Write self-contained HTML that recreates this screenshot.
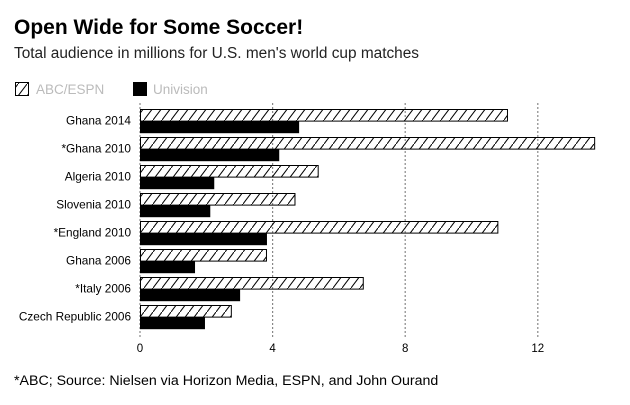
<!DOCTYPE html>
<html><head><meta charset="utf-8"><style>
body{margin:0;background:#fff;font-family:"Liberation Sans",Arial,sans-serif;}
</style></head><body>
<svg width="630" height="400" xmlns="http://www.w3.org/2000/svg" style="font-family:'Liberation Sans',Arial,sans-serif">
<defs><pattern id="hatch" patternUnits="userSpaceOnUse" width="9" height="12"><line x1="0" y1="12" x2="9" y2="0" stroke="#000" stroke-width="1"/></pattern></defs>
<text x="14" y="34" font-size="21" font-weight="bold">Open Wide for Some Soccer!</text>
<text x="14" y="58" font-size="15.4" fill="#222">Total audience in millions for U.S. men's world cup matches</text>
<g>
<rect x="15.5" y="82.5" width="13" height="13" fill="url(#hatch)" stroke="#000"/>
<text x="36" y="94" font-size="13.5" fill="#bbb">ABC/ESPN</text>
<rect x="133" y="82" width="14" height="14" fill="#000"/>
<text x="153" y="94" font-size="13.5" fill="#bbb">Univision</text>
</g>
<g id="grid"></g><g id="bars"></g><g id="labels"></g><g id="ticks"></g>
<text x="14" y="385" font-size="14.2">*ABC; Source: Nielsen via Horizon Media, ESPN, and John Ourand</text>
</svg>
<script>
const categories=["Ghana 2014","*Ghana 2010","Algeria 2010","Slovenia 2010","*England 2010","Ghana 2006","*Italy 2006","Czech Republic 2006"];
const abcValues=[11.07,13.7,5.36,4.66,10.78,3.8,6.72,2.74];
const univisionValues=[4.8,4.2,2.24,2.12,3.83,1.66,3.02,1.96];
const tickValues=[0,4,8,12];
const NS="http://www.w3.org/2000/svg";
const x0=140,ppu=33.15;
const xs=v=>x0+v*ppu;
const gTop=109,gStep=28,bh=11.6;
const ys=i=>gTop+i*gStep;
function mk(t,a,p){const e=document.createElementNS(NS,t);for(const k in a)e.setAttribute(k,a[k]);p.appendChild(e);return e;}
const grid=document.getElementById('grid'),bars=document.getElementById('bars'),labels=document.getElementById('labels'),ticks=document.getElementById('ticks');
tickValues.forEach(v=>{
 const l=mk('line',{x1:xs(v),x2:xs(v),y1:103,y2:338,stroke:'#888','stroke-width':1.2,'stroke-dasharray':'2,2'},grid);
 
 
 const t=mk('text',{x:xs(v),y:352,'font-size':11.5,'text-anchor':'middle'},ticks);
 t.textContent=v;
 
 
});
categories.forEach((c,i)=>{
 const y=ys(i);
 const a=mk('rect',{x:x0+0.5,y:y+0.5,width:xs(abcValues[i])-x0,height:bh,fill:'url(#hatch)',stroke:'#000','stroke-width':1},bars);
 
 
 const u=mk('rect',{x:x0,y:y+bh+0.5,width:xs(univisionValues[i])-x0,height:bh+0.5,fill:'#000'},bars);
 
 
 const t=mk('text',{x:131,y:y+bh+4,'font-size':11.8,'text-anchor':'end'},labels);
 t.textContent=c;
 
 
});
</script>
</body></html>
